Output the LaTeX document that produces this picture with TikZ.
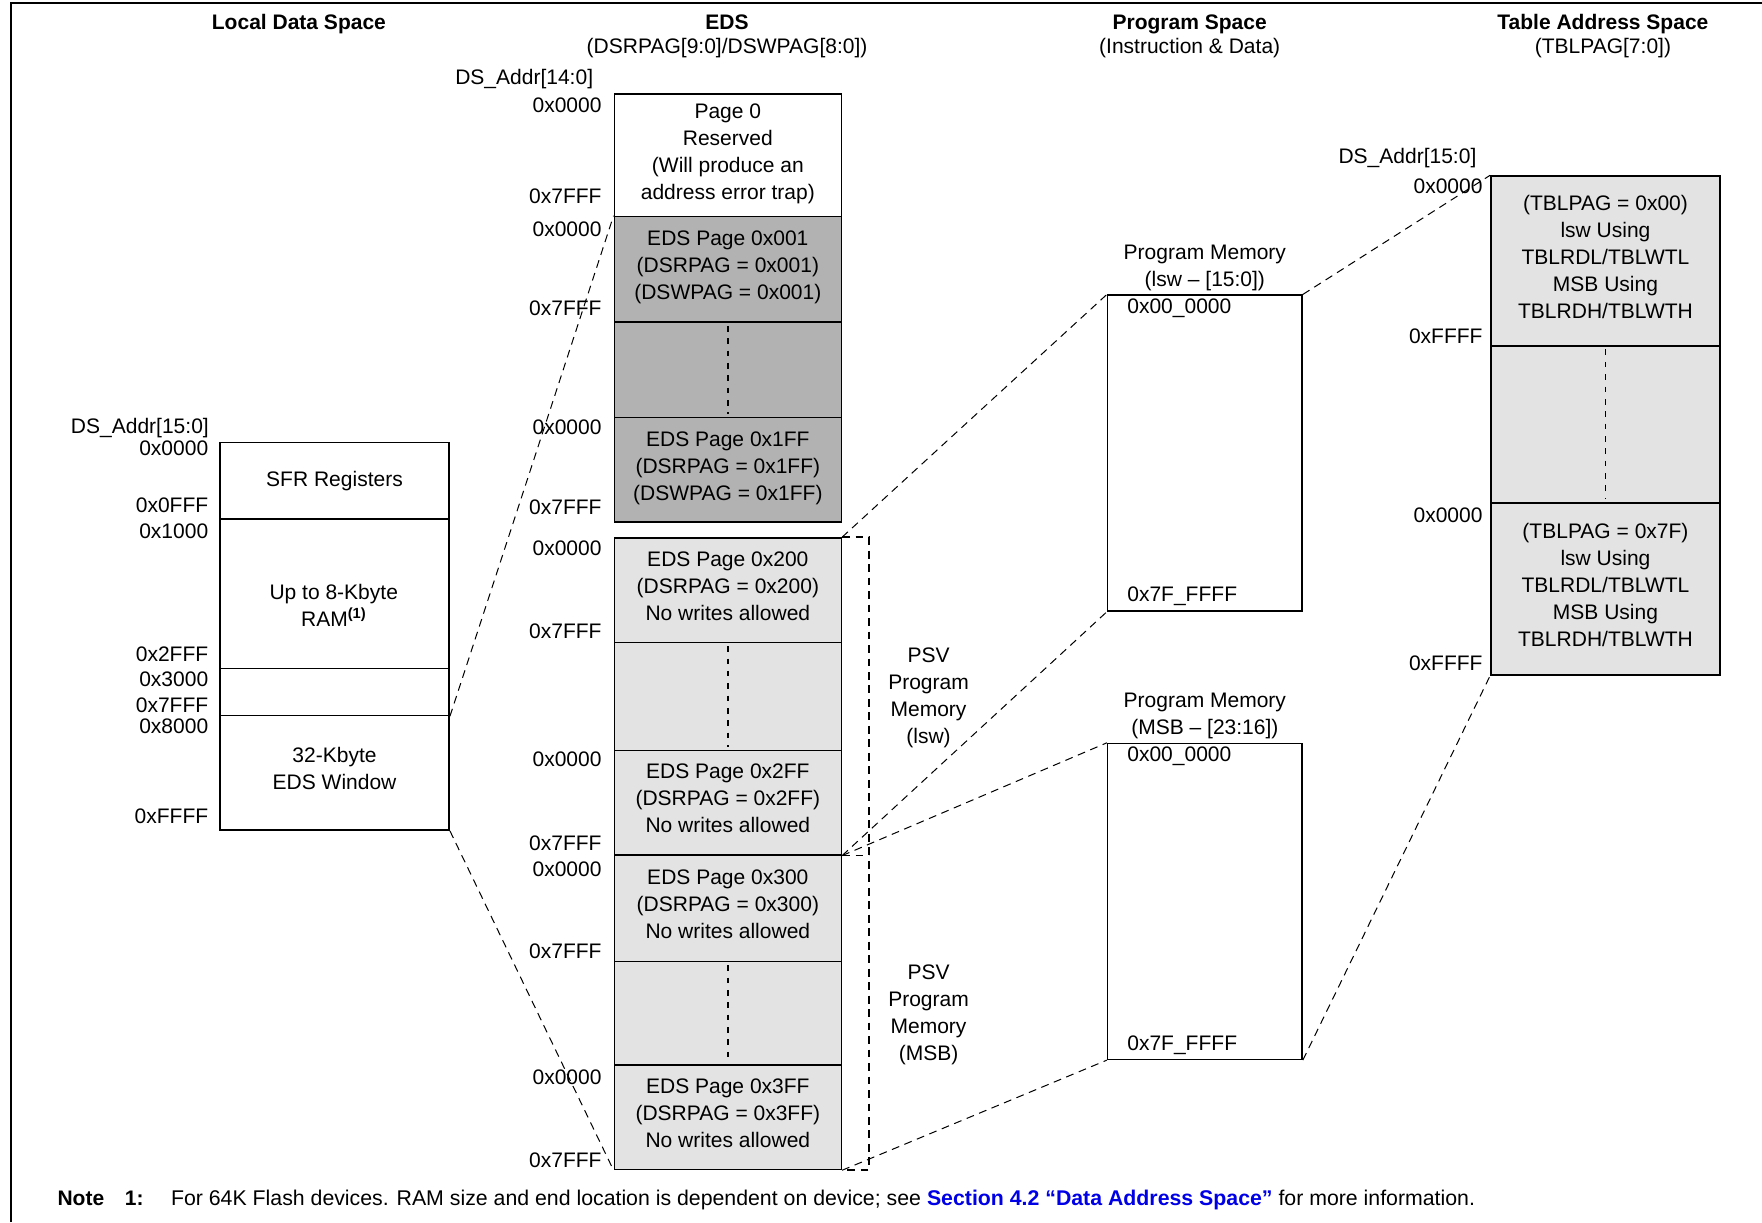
\documentclass[tikz,border=0pt]{standalone}
\usepackage{fontspec}
\setmainfont{Liberation Sans}
\usepackage{tikz}
\usetikzlibrary{positioning}
\usepackage{xcolor}
\definecolor{pagedark}{gray}{0.70}
\definecolor{pagelight}{gray}{0.89}
\definecolor{refblue}{RGB}{0,0,230}
\tikzset{
  every node/.style={font=\fontsize{18.7pt}{24pt}\selectfont}
}

\begin{document}
\begin{tikzpicture}[x=1pt, y=-1pt]
  \tikzset{
    seg/.style={
      draw,
      line width=1.4pt,
      anchor=north west,
      inner sep=0pt,
      align=center,
      minimum width=202pt,
      execute at begin node=\strut,
      execute at end node=\strut
    },
    txt/.style={
      inner sep=0pt,
      align=center,
      execute at begin node=\strut,
      execute at end node=\strut
    },
    addr/.style={
      inner sep=0pt,
      anchor=base east
    },
    head/.style={
      inner sep=0pt,
      anchor=base
    },
    link/.style={
      line width=0.9pt,
      dash pattern=on 7pt off 5pt
    },
    brace/.style={
      line width=1.5pt,
      dash pattern=on 7pt off 5pt
    },
    dots/.style={
      line width=1.3pt,
      dash pattern=on 5pt off 6pt
    }
  }
  \useasboundingbox (0,0) rectangle (1568,1087.5);
  \draw[line width=2pt] (10,1087.5) -- (10,3) -- (1568,3);

  % column heads
  \node[head] (hlds) at (266,26.4) {\textbf{Local Data Space}};
  \node[head] (heds) at (647,26.4) {\textbf{EDS}};
  \node[head] (hedss) at (647,48) {(DSRPAG[9:0]/DSWPAG[8:0])};
  \node[head] (hps) at (1058.7,26.4) {\textbf{Program Space}};
  \node[head] (hpss) at (1058.7,48) {(Instruction \& Data)};
  \node[head] (htas) at (1426.4,26.4) {\textbf{Table Address Space}};
  \node[head] (htass) at (1426.4,48) {(TBLPAG[7:0])};

  % local data space
  \node[seg, minimum width=204pt, minimum height=68pt] (sfr) at (195,393) {SFR Registers};
  \node[seg, minimum width=204pt, minimum height=133pt] (ram) at (195,461) {};
  \node[seg, minimum width=204pt, minimum height=42pt] (gap) at (195,594) {};
  \node[seg, minimum width=204pt, minimum height=102pt] (edsw) at (195,636) {32-Kbyte\\EDS Window};
  \node[txt] (ramtxt) at (297,541.9) {Up to 8-Kbyte\\RAM\textsuperscript{\bfseries(1)}};

  \node[addr] (ldsa) at (186,385.7) {DS\_Addr[15:0]};
  \node[addr] (lds0) at (185.5,405.4) {0x0000};
  \node[addr] (lds1) at (185.5,456.2) {0x0FFF};
  \node[addr] (lds2) at (185.5,479.1) {0x1000};
  \node[addr] (lds3) at (185.5,588.7) {0x2FFF};
  \node[addr] (lds4) at (185.5,611.2) {0x3000};
  \node[addr] (lds5) at (185.5,633.7) {0x7FFF};
  \node[addr] (lds6) at (185.5,653) {0x8000};
  \node[addr] (lds7) at (185.5,732.4) {0xFFFF};

  % EDS pages
  \node[seg, minimum height=109pt] (pg0) at (546,83) {Page 0\\Reserved\\(Will produce an\\address error trap)};
  \node[seg, fill=pagedark, minimum height=94pt] (p001) at (546,192) {EDS Page 0x001\\(DSRPAG = 0x001)\\(DSWPAG = 0x001)};
  \node[seg, fill=pagedark, minimum height=85pt] (dk1) at (546,286) {};
  \node[seg, fill=pagedark, minimum height=93pt] (p1ff) at (546,371) {EDS Page 0x1FF\\(DSRPAG = 0x1FF)\\(DSWPAG = 0x1FF)};
  \node[seg, fill=pagelight, minimum height=93pt] (p200) at (546,478) {EDS Page 0x200\\(DSRPAG = 0x200)\\No writes allowed};
  \node[seg, fill=pagelight, minimum height=96pt] (dk2) at (546,571) {};
  \node[seg, fill=pagelight, minimum height=93pt] (p2ff) at (546,667) {EDS Page 0x2FF\\(DSRPAG = 0x2FF)\\No writes allowed};
  \node[seg, fill=pagelight, minimum height=95pt] (p300) at (546,760) {EDS Page 0x300\\(DSRPAG = 0x300)\\No writes allowed};
  \node[seg, fill=pagelight, minimum height=92pt] (dk3) at (546,855) {};
  \node[seg, fill=pagelight, minimum height=93pt] (p3ff) at (546,947) {EDS Page 0x3FF\\(DSRPAG = 0x3FF)\\No writes allowed};

  \draw[dots] ([yshift=-4pt]dk1.north) -- ([yshift=4pt]dk1.south);
  \draw[dots] ([yshift=-4pt]dk2.north) -- ([yshift=4pt]dk2.south);
  \draw[dots] ([yshift=-4pt]dk3.north) -- ([yshift=4pt]dk3.south);

  \node[addr] (edsa) at (528,75) {DS\_Addr[14:0]};
  \node[addr] (eds0) at (535.5,100.4) {0x0000};
  \node[addr] (eds1) at (535.5,180.7) {0x7FFF};
  \node[addr] (eds2) at (535.5,210.7) {0x0000};
  \node[addr] (eds3) at (535.5,280.5) {0x7FFF};
  \node[addr] (eds4) at (535.5,386.3) {0x0000};
  \node[addr] (eds5) at (535.5,457.7) {0x7FFF};
  \node[addr] (eds6) at (535.5,494.3) {0x0000};
  \node[addr] (eds7) at (535.5,568.6) {0x7FFF};
  \node[addr] (eds8) at (535.5,682) {0x0000};
  \node[addr] (eds9) at (535.5,757.1) {0x7FFF};
  \node[addr] (eds10) at (535.5,780.4) {0x0000};
  \node[addr] (eds11) at (535.5,853.2) {0x7FFF};
  \node[addr] (eds12) at (535.5,965.4) {0x0000};
  \node[addr] (eds13) at (535.5,1039) {0x7FFF};

  % PSV window
  \draw[brace] (p200.north east) -- ++(24,0) |- (p3ff.south east);
  \draw[brace] (p2ff.south east) -- ++(24,0);
  \node[txt] (psvl) at (826.3,622.9) {PSV\\Program\\Memory\\(lsw)};
  \node[txt] (psvm) at (826.3,904.5) {PSV\\Program\\Memory\\(MSB)};

  % program memory
  \node[seg, minimum width=173pt, minimum height=281pt] (pmlsw) at (985,262) {};
  \node[seg, minimum width=173pt, minimum height=281pt] (pmmsb) at (985,661) {};
  \node[txt, above=0pt of pmlsw] (pmlswh) {Program Memory\\(lsw -- [15:0])};
  \node[txt, above=0pt of pmmsb] (pmmsbh) {Program Memory\\(MSB -- [23:16])};
  \node[addr, anchor=base west] (pml0) at (1003,278.9) {0x00\_0000};
  \node[addr, anchor=base west] (pml1) at (1003,535.7) {0x7F\_FFFF};
  \node[addr, anchor=base west] (pmm0) at (1003,677.7) {0x00\_0000};
  \node[addr, anchor=base west] (pmm1) at (1003,934.5) {0x7F\_FFFF};

  % table address space
  \node[seg, fill=pagelight, minimum width=204pt, minimum height=151pt] (tb00) at (1326,156) {(TBLPAG = 0x00)\\lsw Using\\TBLRDL/TBLWTL\\MSB Using\\TBLRDH/TBLWTH};
  \node[seg, fill=pagelight, minimum width=204pt, minimum height=140pt] (dk4) at (1326,307) {};
  \node[seg, fill=pagelight, minimum width=204pt, minimum height=153pt] (tb7f) at (1326,447) {(TBLPAG = 0x7F)\\lsw Using\\TBLRDL/TBLWTL\\MSB Using\\TBLRDH/TBLWTH};
  \draw[dots] ([yshift=-4pt]dk4.north) -- ([yshift=4pt]dk4.south);

  \node[addr] (tasa) at (1314,145.5) {DS\_Addr[15:0]};
  \node[addr] (tas0) at (1319.5,172.5) {0x0000};
  \node[addr] (tas1) at (1319.5,305.3) {0xFFFF};
  \node[addr] (tas2) at (1319.5,465.1) {0x0000};
  \node[addr] (tas3) at (1319.5,596.5) {0xFFFF};

  % mappings
  \draw[link] (gap.south east) -- (p001.north west);
  \draw[link] (edsw.south east) -- (p3ff.south west);
  \draw[link] (p200.north east) -- (pmlsw.north west);
  \draw[link] (p2ff.south east) -- (pmlsw.south west);
  \draw[link] (p2ff.south east) -- (pmmsb.north west);
  \draw[link] (p3ff.south east) -- (pmmsb.south west);
  \draw[link] (pmlsw.north east) -- (tb00.north west);
  \draw[link] (pmmsb.south east) -- (tb7f.south west);

  % note
  \node[addr, anchor=base west] (notek) at (51,1073.1) {\textbf{Note}};
  \node[addr, anchor=base west] (noten) at (111,1073.1) {\textbf{1:}};
  \node[addr, anchor=base west, font=\fontsize{18.95pt}{24pt}\selectfont] (notet) at (152,1073.1) {For 64K Flash devices. RAM size and end location is dependent on device; see \textcolor{refblue}{\textbf{Section 4.2 “Data Address Space”}} for more information.};
\end{tikzpicture}
\end{document}
